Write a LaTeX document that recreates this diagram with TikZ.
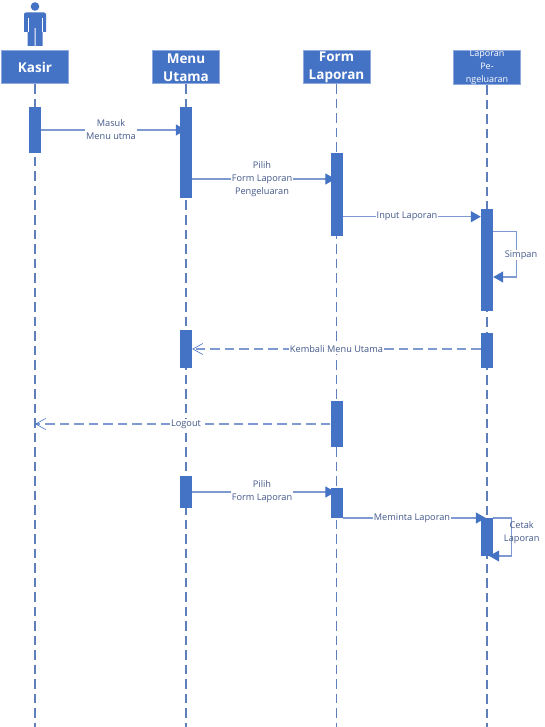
\documentclass[tikz,border=0pt]{standalone}
\usepackage{fontspec}
\setmainfont{Open Sans}
\usetikzlibrary{arrows.meta,calc}
\definecolor{boxblue}{HTML}{4472C4}
\definecolor{edgeblue}{HTML}{8FAADC}
\definecolor{lineblue}{HTML}{7F9AD0}
\definecolor{lifeblue}{HTML}{5F7FBA}
\definecolor{textblue}{HTML}{44598A}
\tikzset{
  header/.style={draw=edgeblue,line width=1pt,fill=boxblue,text=white,minimum width=67pt,minimum height=33pt,inner sep=0pt,align=center},
  headbig/.style={header,font=\fontsize{13.5}{18}\selectfont\bfseries},
  headsmall/.style={header,font=\fontsize{9}{13}\selectfont},
  active/.style={fill=boxblue,draw=none,minimum width=12pt,inner sep=0pt},
  life/.style={draw=lifeblue,line width=1.25pt,dash pattern=on 9.5pt off 5pt},
  msg/.style={draw=lineblue,line width=1.2pt,-{Triangle[length=10pt,width=11pt,color=boxblue,fill=boxblue]}},
  back/.style={draw=lineblue,line width=1.25pt,dash pattern=on 9.5pt off 5pt,-{Straight Barb[length=10pt,width=11pt,line width=.6pt,color=boxblue]}},
  lab/.style={fill=white,text=textblue,inner sep=1pt,align=center,font=\fontsize{9.2}{13}\selectfont},
}
\begin{document}
\begin{tikzpicture}[x=1pt,y=-1pt]
\useasboundingbox (0,0) rectangle (545,727);
% actor
\fill[boxblue] (35,6.5) circle (4.3);
\fill[boxblue] (26,12.5) -- (44,12.5) .. controls (45.5,12.5) and (46,13.5) .. (46,15) -- (46,32) -- (42.5,32) -- (42.5,46) -- (35.5,46) -- (35.5,28) -- (34.5,28) -- (34.5,46) -- (27.5,46) -- (27.5,32) -- (24,32) -- (24,15) .. controls (24,13.5) and (24.5,12.5) .. (26,12.5) -- cycle;
\draw[white,line width=.5pt] (28.2,18) -- (28.2,32) (41.8,18) -- (41.8,32);
% headers
\node[headbig] (kasir) at (35,67.5) {Kasir};
\node[headbig] (menu) at (186,67.5) {Menu\\[-.5pt]Utama};
\node[headbig] (form) at (336.5,67.5) {Form\\[-.5pt]Laporan};
\node[headsmall] (lap) at (487,67.5) {Laporan\\Pe-\\ngeluaran};
% bottoms and levels
\coordinate (b1) at (35,727); \coordinate (b2) at (186,727);
\coordinate (b3) at (336.5,727); \coordinate (b4) at (487,727);
\coordinate (y130) at (0,130); \coordinate (y179) at (0,179);
\coordinate (y217) at (0,216.7); \coordinate (y232) at (0,231.7);
\coordinate (y277) at (0,277); \coordinate (y349) at (0,349);
\coordinate (y424) at (0,424); \coordinate (y492) at (0,492);
\coordinate (y518) at (0,518); \coordinate (y556) at (0,556);
\coordinate (xs) at (516.7,0); \coordinate (xc) at (511.7,0);
% lifelines
\draw[life] (kasir.south) -- (b1);
\draw[life] (menu.south) -- (b2);
\draw[life] (form.south) -- (b3);
\draw[life] (lap.south) -- (b4);
% activations are placed first so that connectors can refer to them
\path
 node[active,minimum height=46pt] (a1) at (35,130) {}
 node[active,minimum height=91pt] (m1) at (186,152.5) {}
 node[active,minimum height=83pt] (f1) at (336.5,194.5) {}
 node[active,minimum height=102pt] (l1) at (487,260) {}
 node[active,minimum height=38pt] (m2) at (186,349) {}
 node[active,minimum height=35pt] (l2) at (487,350.5) {}
 node[active,minimum height=46pt] (f2) at (336.5,424) {}
 node[active,minimum height=32pt] (m3) at (186,492) {}
 node[active,minimum height=30pt] (f3) at (336.5,503) {}
 node[active,minimum height=38pt] (l3) at (487,537) {};
% connectors
\draw[msg,shorten >=-6pt] (a1.east |- y130) -- (m1.west |- y130);
\draw[msg,shorten >=-5pt] (m1.east |- y179) -- (f1.west |- y179);
\draw[msg] (f1.east |- y217) -- (l1.west |- y217);
\draw[msg,rounded corners=0pt] (l1.east |- y232) -| (xs |- y277) -- (l1.east |- y277);
\draw[back] (l2.west |- y349) -- (m2.east |- y349);
\draw[back] (f2.west |- y424) -- (kasir.south |- y424);
\draw[msg,shorten >=-5pt] (m3.east |- y492) -- (f3.west |- y492);
\draw[msg,shorten >=-5pt] (f3.east |- y518) -- (l3.west |- y518);
\draw[msg,shorten >=-4pt] (l3.east |- y518) -| (xc |- y556) -- (l3.east |- y556);
% redraw activations on top
\foreach \n/\x/\t/\b in {a1/35/107/153,m1/186/107/198,f1/336.5/153/236,l1/487/209/311,m2/186/330/368,l2/487/333/368,f2/336.5/401/447,m3/186/476/508,f3/336.5/488/518,l3/487/518/556}
  \fill[boxblue] (\x-6,\t) rectangle (\x+6,\b);
% labels
\node[lab] (t1) at (111,130) {Masuk\\Menu utma};
\node[lab] (t2) at (262,179) {Pilih\\Form Laporan\\Pengeluaran};
\node[lab] (t3) at (407,216.7) {Input Laporan};
\node[lab] (t4) at (521,255) {Simpan};
\node[lab] (t5) at (336.5,349) {Kembali Menu Utama};
\node[lab] (t6) at (186,424) {Logout};
\node[lab] (t7) at (262,492) {Pilih\\Form Laporan};
\node[lab] (t8) at (412,518) {Meminta Laporan};
\node[lab,fill=none] (t9) at (521.7,533) {Cetak\\Laporan};
\end{tikzpicture}
\end{document}
